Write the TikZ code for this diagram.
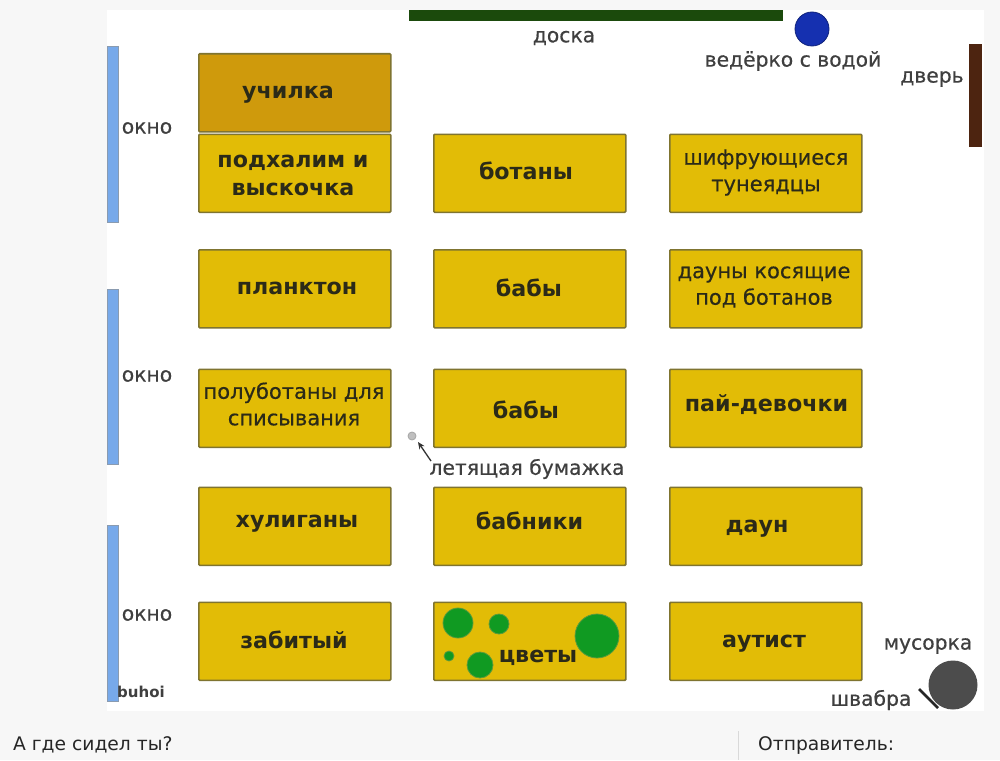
\documentclass[tikz,border=0pt]{standalone}
\usepackage{fontspec}
\setmainfont{DejaVu Sans}
\newfontfamily\medfont[FakeBold=0.5]{DejaVu Sans}
\usetikzlibrary{arrows.meta}
\definecolor{pagebg}{HTML}{F7F7F7}
\definecolor{desk}{HTML}{E2BC06}
\definecolor{deskline}{HTML}{7F7430}
\definecolor{teacher}{HTML}{CF9A0C}
\definecolor{wintxt}{HTML}{3F3F3F}
\definecolor{deskink}{HTML}{2B2A18}
\definecolor{winfill}{HTML}{77A9EA}
\definecolor{winline}{HTML}{8A9BB0}
\definecolor{flower}{HTML}{109A22}
\definecolor{flowerline}{HTML}{5C9A3C}
\definecolor{boardc}{HTML}{1B4A0C}
\definecolor{doorc}{HTML}{4D2410}
\definecolor{bucketc}{HTML}{1530B0}
\tikzset{
  x=1pt,y=-1pt,
  deskbox/.style={draw=deskline,line width=1.6pt,fill=desk,minimum width=192pt,minimum height=78pt,inner sep=0pt,rounded corners=1pt,anchor=north west},
  big/.style={font=\fontsize{22.2}{28}\selectfont\bfseries,text=deskink,align=center,inner sep=0pt},
  small/.style={font=\fontsize{21}{26.5}\selectfont\medfont,text=deskink,align=center,inner sep=0pt},
  lab/.style={font=\fontsize{20.3}{22}\selectfont\medfont,text=wintxt,inner sep=0pt},
  winbar/.style={draw=winline,line width=1pt,fill=winfill},
  flowerdot/.style={circle,draw=flowerline,line width=.8pt,fill=flower,inner sep=0pt},
  footer/.style={font=\fontsize{18.7}{22}\selectfont,text=black!85,inner sep=0pt,anchor=base west}
}
\begin{document}
\begin{tikzpicture}
\useasboundingbox (0,0) rectangle (1000,760);
\fill[pagebg] (0,0) rectangle (1000,760);
\fill[white] (107,10) rectangle (984,711);
% board, door
\fill[boardc] (409,10) rectangle (783,21);
\fill[doorc] (969,44) rectangle (982,147);
\node[circle,fill=bucketc,draw=bucketc!70!black,line width=.8pt,minimum size=34pt,inner sep=0pt] (bucket) at (812,29) {};
\node[lab] (doska) at (564,38) {доска};
\node[lab] (vedro) at (793,61) {ведёрко с водой};
\node[lab] (dver) at (932,79) {дверь};
% windows
\draw[winbar] (107.5,47) rectangle (118.5,222);
\draw[winbar] (107.5,289.5) rectangle (118.5,464);
\draw[winbar] (107.5,525.5) rectangle (118.5,701);
\node[lab] (w1) at (147,128) {окно};
\node[lab] (w2) at (147,376) {окно};
\node[lab] (w3) at (147,615) {окно};
\node[font=\fontsize{15}{16}\selectfont\bfseries,text=wintxt,inner sep=0pt] (buhoi) at (141,692) {buhoi};
% desks
\node[deskbox,fill=teacher] (d0) at (198,53) {};
\node[big] at (288,95) {училка};
\node[deskbox] (d11) at (198,133.5) {};
\node[big] at (293,175.5) {подхалим и\\выскочка};
\node[deskbox] (d12) at (433,133.5) {};
\node[big] at (526,171) {ботаны};
\node[deskbox] (d13) at (669,133.5) {};
\node[small] at (766,172.5) {шифрующиеся\\тунеядцы};
\node[deskbox] (d21) at (198,249) {};
\node[big] at (297,288) {планктон};
\node[deskbox] (d22) at (433,249) {};
\node[big] at (529,288) {бабы};
\node[deskbox] (d23) at (669,249) {};
\node[small] at (764,287) {дауны косящие\\под ботанов};
\node[deskbox] (d31) at (198,368.5) {};
\node[small] at (294,404) {полуботаны для\\списывания};
\node[deskbox] (d32) at (433,368.5) {};
\node[big] at (526,410) {бабы};
\node[deskbox] (d33) at (669,368.5) {};
\node[big] at (766.5,405) {пай-девочки};
\node[deskbox] (d41) at (198,486.5) {};
\node[big] at (297,524) {хулиганы};
\node[deskbox] (d42) at (433,486.5) {};
\node[big] at (529.5,521) {бабники};
\node[deskbox] (d43) at (669,486.5) {};
\node[big] at (757,529) {даун};
\node[deskbox] (d51) at (198,601.5) {};
\node[big] at (294,640) {забитый};
\node[deskbox] (d52) at (433,601.5) {};
\node[big] at (538,658) {цветы};
\node[deskbox] (d53) at (669,601.5) {};
\node[big] at (764,644) {аутист};
% flowers
\node[flowerdot,minimum size=30pt] at (458,623) {};
\node[flowerdot,minimum size=20pt] at (499,624) {};
\node[flowerdot,minimum size=44pt] at (597,636) {};
\node[flowerdot,minimum size=10pt] at (449,656) {};
\node[flowerdot,minimum size=26pt] at (480,665) {};
% paper
\node[circle,draw=black!35,fill=black!25,line width=.8pt,minimum size=8pt,inner sep=0pt] (paper) at (412,436) {};
\node[lab] (plabel) at (527,469) {летящая бумажка};
\coordinate (ptail) at (431,461);
\coordinate (phead) at (418,442);
\draw[-{Stealth[length=7pt,width=6pt]},line width=1.3pt,draw=black!80] (ptail) -- (phead);
% bin, mop
\node[circle,fill=black!70,minimum size=49pt,inner sep=0pt] (bin) at (953,685) {};
\node[lab] (bintxt) at (928,646) {мусорка};
\node[lab] (moptxt) at (871,700) {швабра};
\coordinate (m1) at (919,689);
\coordinate (m2) at (938,708);
\draw[line width=2.5pt,black!85] (m1) -- (m2);
% footer
\draw[black!15,line width=1pt] (738.5,731) -- (738.5,760);
\node[footer] (q) at (13,750) {А где сидел ты?};
\node[footer] (s) at (758,750) {Отправитель:};
\end{tikzpicture}
\end{document}
